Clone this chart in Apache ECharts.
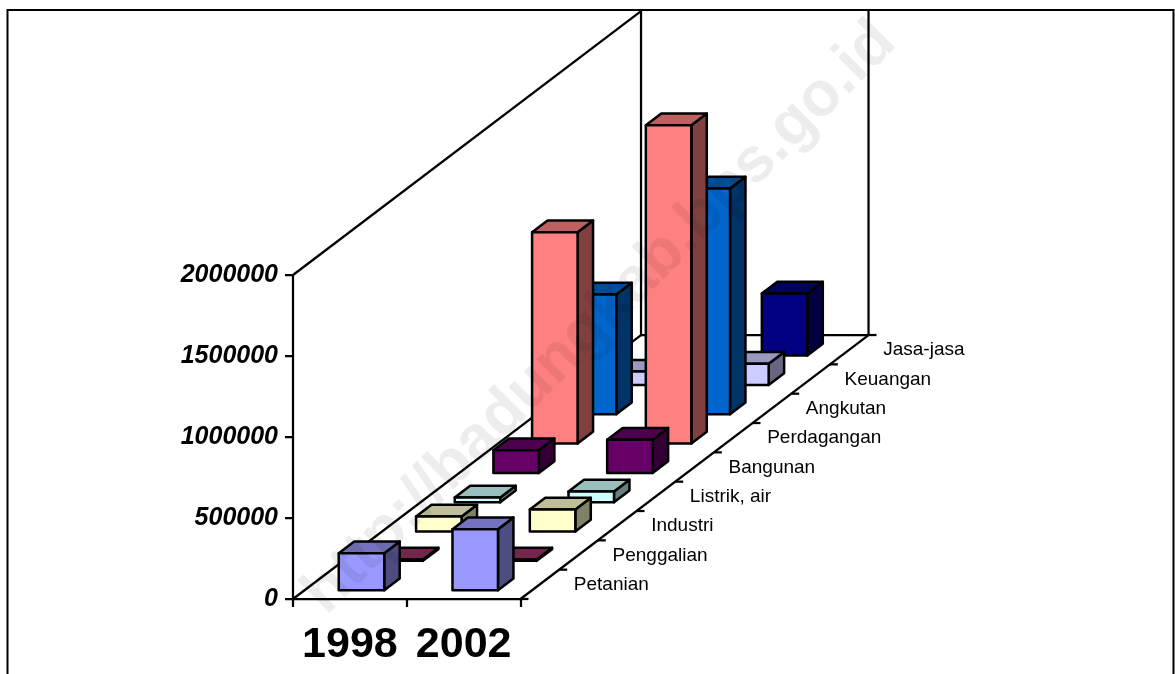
<!DOCTYPE html>
<html>
<head>
<meta charset="utf-8">
<style>html,body{margin:0;padding:0;background:#fff}#chart{width:1175px;height:674px}</style>
<script src="https://cdn.jsdelivr.net/npm/echarts@6/dist/echarts.min.js"></script>
</head>
<body>
<div id="chart"></div>
<script>
// Gross output by sector, Badung regency, 1998 and 2002
var years = ['1998', '2002'];
var sectors = ['Petanian', 'Penggalian', 'Industri', 'Listrik, air', 'Bangunan', 'Perdagangan', 'Angkutan', 'Keuangan', 'Jasa-jasa'];
var values1998 = [228000, 8000, 93000, 29000, 140000, 1304000, 739000, 82000, 230000];
var values2002 = [376000, 8000, 136000, 66000, 205000, 1965000, 1393000, 130000, 383000];
var frontColors = ['#9999FF', '#993366', '#FFFFCC', '#CCFFFF', '#660066', '#FF8080', '#0066CC', '#CCCCFF', '#000080'];
var valueTicks = [0, 500000, 1000000, 1500000, 2000000];

// Oblique projection of the depth axis: pixels moved per sector step
var STEP_X = 38.67, STEP_Y = 29.33;
var BAR_RATIO = 0.4, GAP_RATIO = 0.3;
var FONT = '"Liberation Sans", Arial, sans-serif';

function shade(hex, k) {
  var n = parseInt(hex.slice(1), 16);
  var c = [(n >> 16) & 255, (n >> 8) & 255, n & 255].map(function (v) { return Math.round(v * k); });
  return 'rgb(' + c.join(',') + ')';
}

// Back rows first so that nearer bars cover the ones behind them
var cubeData = [];
for (var c = sectors.length - 1; c >= 0; c--) {
  cubeData.push([0, c, values1998[c]]);
  cubeData.push([1, c, values2002[c]]);
}

function poly(points, fill) {
  return {
    type: 'polygon',
    shape: { points: points },
    style: { fill: fill, stroke: '#000', lineWidth: 2.5, lineJoin: 'round' }
  };
}

function renderCube(params, api) {
  var yearIdx = api.value(0), c = api.value(1), v = api.value(2);
  var band = api.size([1, 0])[0];
  var base = api.coord([yearIdx, 0]);
  var top = api.coord([yearIdx, v]);
  var x0 = base[0] - band / 2 + GAP_RATIO * band + (c + GAP_RATIO) * STEP_X;
  var w = BAR_RATIO * band;
  var shift = (c + GAP_RATIO) * STEP_Y;
  var yb = base[1] - shift, yt = top[1] - shift;
  var dx = BAR_RATIO * STEP_X, dy = BAR_RATIO * STEP_Y;
  var color = frontColors[c];
  return {
    type: 'group',
    children: [
      poly([[x0 + w, yt], [x0 + w + dx, yt - dy], [x0 + w + dx, yb - dy], [x0 + w, yb]], shade(color, 0.5)),
      poly([[x0, yt], [x0 + dx, yt - dy], [x0 + w + dx, yt - dy], [x0 + w, yt]], shade(color, 0.75)),
      poly([[x0, yt], [x0 + w, yt], [x0 + w, yb], [x0, yb]], color)
    ]
  };
}

function segment(a, b, width) {
  return {
    type: 'line',
    shape: { x1: a[0], y1: a[1], x2: b[0], y2: b[1] },
    style: { stroke: '#000', lineWidth: width || 2.25 }
  };
}

// Side wall, back wall, floor and the depth axis with its sector names
function renderFrame(params, api) {
  var band = api.size([1, 0])[0];
  var n = sectors.length;
  var first = api.coord([0, 0]), peak = api.coord([0, 2000000]);
  var last = api.coord([years.length - 1, 0]);
  var fl = first[0] - band / 2, fr = last[0] + band / 2, fy = first[1], ty = peak[1];
  var ddx = n * STEP_X, ddy = n * STEP_Y;
  var kids = [
    segment([fl, ty], [fl + ddx, ty - ddy]),
    segment([fl, fy], [fl + ddx, fy - ddy]),
    segment([fl + ddx, ty - ddy], [fl + ddx, fy - ddy]),
    segment([fr + ddx, ty - ddy], [fr + ddx, fy - ddy]),
    segment([fl + ddx, fy - ddy], [fr + ddx, fy - ddy]),
    segment([fr, fy], [fr + ddx, fy - ddy])
  ];
  for (var i = 0; i <= n; i++) {
    kids.push(segment([fr + i * STEP_X, fy - i * STEP_Y], [fr + i * STEP_X + 8, fy - i * STEP_Y]));
  }
  sectors.forEach(function (name, i) {
    kids.push({
      type: 'text',
      style: {
        text: name,
        x: fr + (i + 0.5) * STEP_X + 34,
        y: fy - (i + 0.5) * STEP_Y + 0.5,
        fill: '#000',
        font: '19px ' + FONT,
        textAlign: 'left',
        textVerticalAlign: 'middle'
      }
    });
  });
  return { type: 'group', children: kids };
}

var chart = echarts.init(document.getElementById('chart'), null, { renderer: 'canvas' });
chart.setOption({
  animation: false,
  backgroundColor: '#fff',
  grid: { left: 293, top: 275, width: 227.5, height: 324, containLabel: false },
  xAxis: {
    type: 'category',
    data: years,
    boundaryGap: true,
    axisLine: { onZero: false, lineStyle: { color: '#000', width: 2.25 } },
    axisTick: { show: true, alignWithLabel: false, length: 8, lineStyle: { color: '#000', width: 2.25 } },
    axisLabel: { color: '#000', fontFamily: FONT, fontSize: 43, fontWeight: 'bold', margin: 25, interval: 0 },
    splitLine: { show: false }
  },
  yAxis: {
    type: 'value',
    min: 0,
    max: valueTicks[valueTicks.length - 1],
    interval: valueTicks[1],
    axisLine: { show: true, lineStyle: { color: '#000', width: 2.25 } },
    axisTick: { show: true, length: 8, lineStyle: { color: '#000', width: 2.25 } },
    axisLabel: {
      color: '#000', fontFamily: FONT, fontSize: 25, fontWeight: 'bold', fontStyle: 'italic', margin: 15,
      formatter: function (v) { return String(v); }
    },
    splitLine: { show: false }
  },
  series: [
    { type: 'custom', name: 'frame', data: [[0, 0]], renderItem: renderFrame, clip: false, silent: true, z: 1 },
    { type: 'custom', name: 'output', data: cubeData, renderItem: renderCube, clip: false, silent: true, z: 3,
      encode: { x: 0, y: 2 } }
  ],
  graphic: [
    {
      type: 'rect', z: 0, silent: true,
      shape: { x: 7.5, y: 10, width: 1166, height: 700 },
      style: { fill: 'none', stroke: '#000', lineWidth: 2 }
    },
    {
      type: 'text', z: 100, silent: true,
      x: 600, y: 318, rotation: Math.PI / 4,
      style: {
        text: 'http://badungkab.bps.go.id',
        font: 'bold 63px ' + FONT,
        fill: 'rgba(0,0,0,0.07)',
        textAlign: 'center',
        textVerticalAlign: 'middle'
      }
    }
  ]
});
</script>
</body>
</html>
